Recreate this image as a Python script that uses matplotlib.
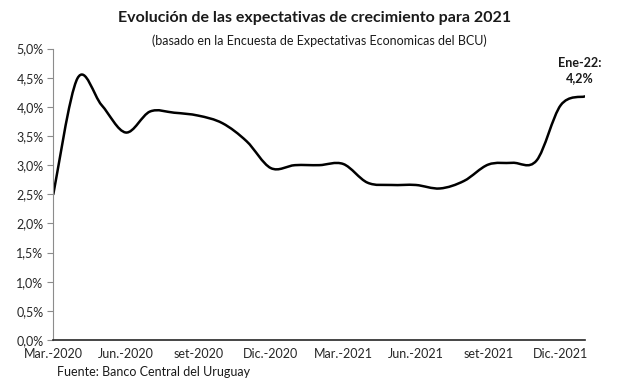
import numpy as np
import matplotlib.pyplot as plt
from matplotlib.path import Path
from matplotlib.patches import PathPatch
from matplotlib.ticker import FuncFormatter

plt.rcParams['font.family'] = ['Lato', 'DejaVu Sans']

# monthly survey, Mar-2020 .. Jan-2022 (growth expected for 2021, %)
months = ['Mar-20', 'Abr-20', 'May-20', 'Jun-20', 'Jul-20', 'Ago-20', 'Set-20',
          'Oct-20', 'Nov-20', 'Dic-20', 'Ene-21', 'Feb-21', 'Mar-21', 'Abr-21',
          'May-21', 'Jun-21', 'Jul-21', 'Ago-21', 'Set-21', 'Oct-21', 'Nov-21',
          'Dic-21', 'Ene-22']
expect = [2.50, 4.49, 4.03, 3.56, 3.92, 3.90, 3.85, 3.72, 3.41, 2.95, 3.00,
          3.00, 3.02, 2.70, 2.66, 2.66, 2.60, 2.73, 3.01, 3.04, 3.08, 4.03, 4.18]

tick_pos = [0, 3, 6, 9, 12, 15, 18, 21]
tick_lab = ['Mar.-2020', 'Jun.-2020', 'set-2020', 'Dic.-2020',
            'Mar.-2021', 'Jun.-2021', 'set-2021', 'Dic.-2021']

fig = plt.figure(figsize=(6.17, 3.92), dpi=100)
ax = fig.add_axes([0.0864, 0.1327, 0.8616, 0.7433])

# smoothed line (bezier through the points, like excel)
x = np.arange(len(expect), dtype=float)
y = np.array(expect)
verts = [(x[0], y[0])]
codes = [Path.MOVETO]
n = len(x)
for i in range(n - 1):
    p0 = np.array([x[max(i - 1, 0)], y[max(i - 1, 0)]])
    p1 = np.array([x[i], y[i]])
    p2 = np.array([x[i + 1], y[i + 1]])
    p3 = np.array([x[min(i + 2, n - 1)], y[min(i + 2, n - 1)]])
    c1 = p1 + (p2 - p0) / 6
    c2 = p2 - (p3 - p1) / 6
    verts += [tuple(c1), tuple(c2), tuple(p2)]
    codes += [Path.CURVE4] * 3
ax.add_patch(PathPatch(Path(verts, codes), facecolor='none', edgecolor='black',
                       lw=1.8, capstyle='round', joinstyle='round'))

ax.set_xlim(0, n - 1)
ax.set_ylim(0, 5)
ax.set_yticks(np.arange(0, 5.01, 0.5))
ax.yaxis.set_major_formatter(FuncFormatter(lambda v, p: f'{v:.1f}%'.replace('.', ',')))
ax.set_xticks(tick_pos)
ax.set_xticklabels(tick_lab)

for s in ['top', 'right']:
    ax.spines[s].set_visible(False)
ax.spines['left'].set_color('#8c8c8c')
ax.spines['left'].set_linewidth(0.8)
ax.spines['bottom'].set_color('#262626')
ax.spines['bottom'].set_linewidth(1.2)
ax.tick_params(axis='y', length=4, width=0.8, color='#8c8c8c', labelsize=9,
               labelcolor='#262626', pad=3)
ax.tick_params(axis='x', length=0, labelsize=9, labelcolor='#262626', pad=6)

fig.text(0.51, 0.953, 'Evolución de las expectativas de crecimiento para 2021',
         ha='center', va='center', fontsize=11.5, fontweight='bold', color='#1a1a1a')
fig.text(0.518, 0.895, '(basado en la Encuesta de Expectativas Economicas del BCU)',
         ha='center', va='center', fontsize=9, color='#1a1a1a')
fig.text(0.093, 0.052, 'Fuente: Banco Central del Uruguay', ha='left', va='center',
         fontsize=9, color='#1a1a1a')

ax.text(n - 1.2, 4.62, 'Ene-22:\n4,2%', ha='center', va='center', fontsize=9,
        fontweight='bold', color='#1a1a1a', linespacing=1.3, clip_on=False)

fig.savefig('out.png', dpi=100)
